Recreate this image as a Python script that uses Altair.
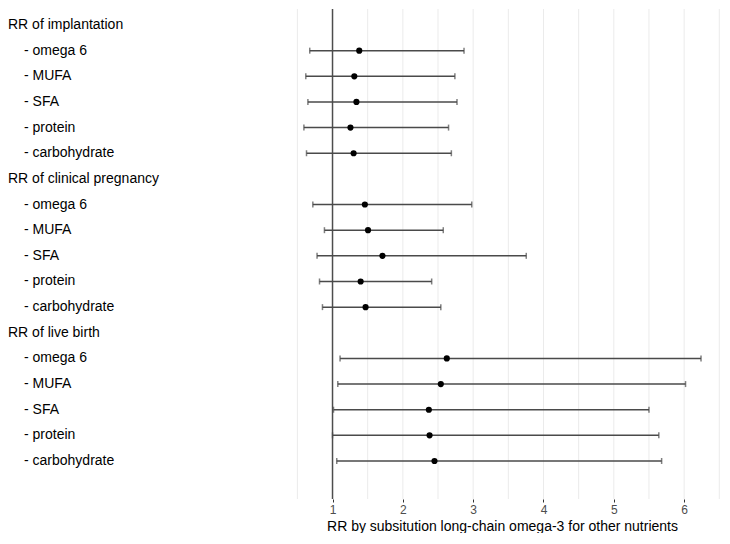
import altair as alt
import pandas as pd

outcomes = ["RR of implantation", "RR of clinical pregnancy", "RR of live birth"]
nutrients = ["omega 6", "MUFA", "SFA", "protein", "carbohydrate"]

rr = [1.38, 1.31, 1.34, 1.255, 1.30,
      1.46, 1.505, 1.71, 1.40, 1.47,
      2.625, 2.54, 2.37, 2.38, 2.45]
lo = [0.676, 0.62, 0.65, 0.593, 0.63,
      0.72, 0.885, 0.78, 0.815, 0.857,
      1.107, 1.075, 1.014, 1.0, 1.06]
hi = [2.87, 2.74, 2.77, 2.65, 2.69,
      2.98, 2.575, 3.755, 2.41, 2.54,
      6.24, 6.02, 5.50, 5.64, 5.68]

tick_values = [1, 2, 3, 4, 5, 6]
grid_values = [0.5, 1, 1.5, 2, 2.5, 3, 3.5, 4, 4.5, 5, 5.5, 6, 6.5]

label_rows = []
data_rows = []
k = 0
for g, outc in enumerate(outcomes):
    base = g * 6
    label_rows.append({"row": base, "label": outc, "kind": "header"})
    for j, nut in enumerate(nutrients):
        r = base + j + 1
        label_rows.append({"row": r, "label": "- " + nut, "kind": "item"})
        data_rows.append({"row": r, "rr": rr[k], "lo": lo[k], "hi": hi[k]})
        k += 1

labels_df = pd.DataFrame(label_rows)
df = pd.DataFrame(data_rows)
grid_df = pd.DataFrame({"g": grid_values})

FONT = "Liberation Sans"
BAR = "#4a4a4a"

xscale = alt.Scale(domain=[0.31, 6.51], nice=False, zero=False)
yscale = alt.Scale(domain=[-0.624, 18.481], nice=False, zero=False, reverse=True)

xaxis = alt.Axis(
    values=tick_values,
    format="d",
    grid=False,
    domain=False,
    ticks=True, tickSize=3, tickColor="#333333", tickWidth=1,
    labelFont=FONT, labelFontSize=12, labelColor="#4d4d4d", labelPadding=2,
    title="RR by subsitution long-chain omega-3 for other nutrients",
    titleFont=FONT, titleFontSize=14, titleFontWeight="normal", titleColor="#000000",
    titlePadding=4,
)

grid = alt.Chart(grid_df).mark_rule(color="#ebebeb", strokeWidth=1).encode(
    x=alt.X("g:Q", scale=xscale, axis=xaxis)
)

ref = alt.Chart(pd.DataFrame({"v": [1]})).mark_rule(color="#4d4d4d", strokeWidth=1.5).encode(
    x=alt.X("v:Q", scale=xscale)
)

bars = alt.Chart(df).mark_rule(color=BAR, strokeWidth=1.5).encode(
    x=alt.X("lo:Q", scale=xscale),
    x2="hi:Q",
    y=alt.Y("row:Q", scale=yscale, axis=None),
)

cap_lo = alt.Chart(df).mark_tick(orient="vertical", color=BAR, size=6, thickness=1.5).encode(
    x=alt.X("lo:Q", scale=xscale),
    y=alt.Y("row:Q", scale=yscale),
)
cap_hi = alt.Chart(df).mark_tick(orient="vertical", color=BAR, size=6, thickness=1.5).encode(
    x=alt.X("hi:Q", scale=xscale),
    y=alt.Y("row:Q", scale=yscale),
)

points = alt.Chart(df).mark_circle(color="#000000", size=38, opacity=1).encode(
    x=alt.X("rr:Q", scale=xscale),
    y=alt.Y("row:Q", scale=yscale),
)

headers = alt.Chart(labels_df).transform_filter("datum.kind == 'header'").mark_text(
    align="left", baseline="middle", font=FONT, fontSize=14, color="#000000"
).encode(
    x=alt.value(-276),
    y=alt.Y("row:Q", scale=yscale),
    text="label:N",
)

items = alt.Chart(labels_df).transform_filter("datum.kind == 'item'").mark_text(
    align="left", baseline="middle", font=FONT, fontSize=14, color="#000000"
).encode(
    x=alt.value(-260),
    y=alt.Y("row:Q", scale=yscale),
    text="label:N",
)

chart = alt.layer(grid, ref, bars, cap_lo, cap_hi, points, headers, items).properties(
    width=436, height=490, padding=0
).configure_view(stroke="transparent")

chart.save("out.html", embed_options={"renderer": "svg", "actions": False})
